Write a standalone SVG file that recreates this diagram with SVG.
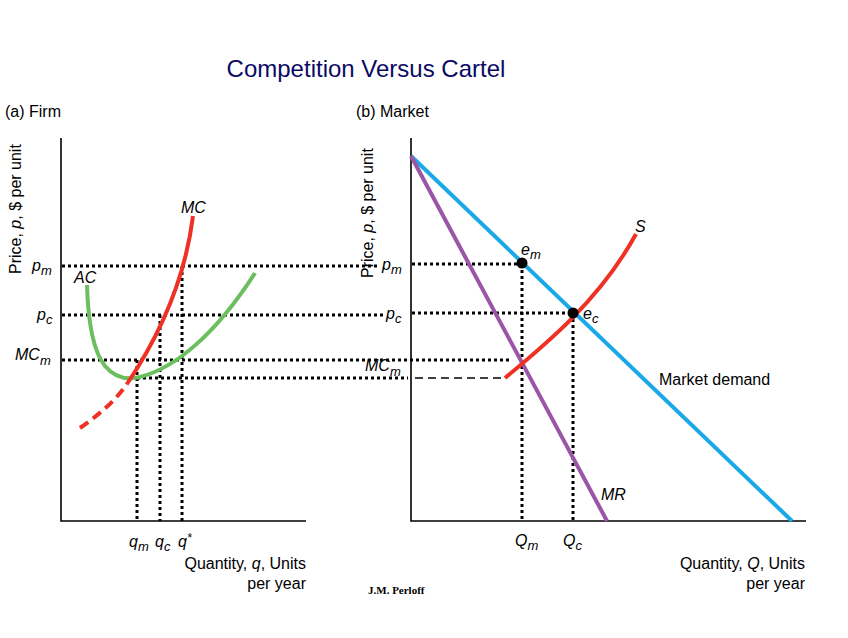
<svg xmlns="http://www.w3.org/2000/svg" width="848" height="638" viewBox="0 0 848 638">
<style>
text{font-family:"Liberation Sans",Arial,sans-serif;font-size:16px;fill:#000}
.it{font-style:italic}
.sub{font-size:13px;font-style:italic}
.ax{stroke:#000;stroke-width:1.6;fill:none}
.dot{stroke:#000;stroke-width:3;stroke-dasharray:3 3;fill:none}
.dash{stroke:#000;stroke-width:1.5;stroke-dasharray:8 5;fill:none}
.red{stroke:#EE3124;stroke-width:4;fill:none}
.grn{stroke:#6CBF5E;stroke-width:4;fill:none}
.blu{stroke:#1BA8E6;stroke-width:4;fill:none}
.pur{stroke:#9A55A6;stroke-width:4;fill:none}
</style>
<rect width="848" height="638" fill="#fff"/>
<text x="366" y="77" text-anchor="middle" style="font-size:24px;fill:#0A0A66">Competition Versus Cartel</text>
<text x="5" y="117">(a) Firm</text>
<text x="356" y="117">(b) Market</text>

<g id="connectors">
<line class="dot" x1="62" y1="266" x2="380" y2="266"/>
<line class="dot" x1="62" y1="315" x2="384" y2="315"/>
<line class="dot" x1="62" y1="360" x2="512" y2="360"/>
<line class="dot" x1="137" y1="378" x2="408" y2="378"/>
<line class="dash" x1="415" y1="378" x2="505" y2="378"/>
<line class="dot" x1="137" y1="360" x2="137" y2="521"/>
<line class="dot" x1="160" y1="315" x2="160" y2="521"/>
<line class="dot" x1="182" y1="266" x2="182" y2="521"/>
<line class="dot" x1="412" y1="264" x2="522" y2="264"/>
<line class="dot" x1="412" y1="313" x2="573" y2="313"/>
<line class="dot" x1="522" y1="264" x2="522" y2="521"/>
<line class="dot" x1="573" y1="313" x2="573" y2="521"/>
</g>

<g id="firm-axes">
<polyline class="ax" points="61,138 61,521 306,521"/>
</g>
<g id="ac-curve">
<path class="grn" d="M87,285 C88,320 92,350 105,366 C115,378 128,380 140,377 C175,368 215,335 255,273"/>
<text x="74" y="283" class="it">AC</text>
</g>
<g id="mc-curve">
<path class="red" d="M80,428 C100,414 116,400 127,384" stroke-dasharray="10 6"/>
<path class="red" d="M127,384 C160,335 185,280 193,216"/>
<text x="181" y="213" class="it">MC</text>
</g>
<g id="firm-labels">
<text x="32" y="271" class="it">p<tspan class="sub" dy="4">m</tspan></text>
<text x="37" y="320" class="it">p<tspan class="sub" dy="4">c</tspan></text>
<text x="15" y="360" class="it">MC<tspan class="sub" dy="5">m</tspan></text>
<text x="129" y="547" class="it">q<tspan class="sub" dy="4">m</tspan></text>
<text x="155" y="547" class="it">q<tspan class="sub" dy="4">c</tspan></text>
<text x="178" y="547" class="it">q<tspan dy="-5" style="font-size:12px">*</tspan></text>
<text x="306" y="569" text-anchor="end">Quantity, <tspan class="it">q</tspan>, Units</text>
<text x="306" y="589" text-anchor="end">per year</text>
<text transform="translate(21,274) rotate(-90)">Price, <tspan class="it">p</tspan>, $ per unit</text>
</g>

<g id="market-axes">
<polyline class="ax" points="411,138 411,521 806,521"/>
<text transform="translate(373,278) rotate(-90)">Price, <tspan class="it">p</tspan>, $ per unit</text>
</g>
<g id="demand">
<line class="blu" x1="411" y1="156" x2="792" y2="521"/>
<text x="659" y="385">Market demand</text>
</g>
<g id="mr">
<line class="pur" x1="411" y1="156" x2="607" y2="521"/>
<text x="601" y="500" class="it">MR</text>
</g>
<g id="supply">
<path class="red" d="M505,378 C545,345 600,300 636,234"/>
<text x="635" y="232" class="it">S</text>
</g>
<g id="em">
<circle cx="522" cy="263" r="5.5" fill="#000"/>
<text x="521" y="255" class="it">e<tspan class="sub" dy="4">m</tspan></text>
</g>
<g id="ec">
<circle cx="573" cy="313" r="5.5" fill="#000"/>
<text x="583" y="319" class="it">e<tspan class="sub" dy="4">c</tspan></text>
</g>
<g id="market-labels">
<text x="382" y="270" class="it">p<tspan class="sub" dy="4">m</tspan></text>
<text x="386" y="319" class="it">p<tspan class="sub" dy="4">c</tspan></text>
<text x="365" y="371" class="it">MC<tspan class="sub" dy="5">m</tspan></text>
<text x="515" y="546" class="it">Q<tspan class="sub" dy="4">m</tspan></text>
<text x="563" y="546" class="it">Q<tspan class="sub" dy="4">c</tspan></text>
<text x="805" y="569" text-anchor="end">Quantity, <tspan class="it">Q</tspan>, Units</text>
<text x="805" y="589" text-anchor="end">per year</text>
</g>
<text x="368" y="594" style="font-family:'Liberation Serif',serif;font-size:11px;font-weight:bold">J.M. Perloff</text>
</svg>
